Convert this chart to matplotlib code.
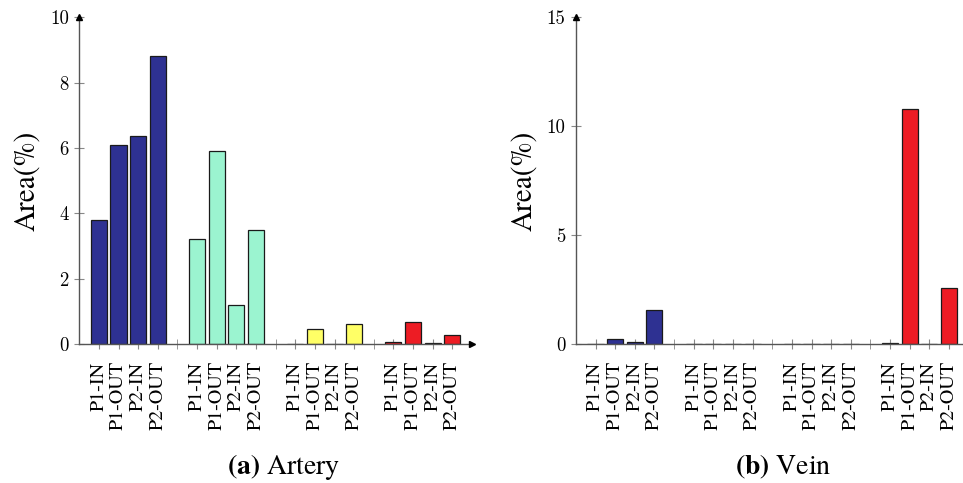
import numpy as np
import matplotlib.pyplot as plt

labels = ['P1-IN', 'P1-OUT', 'P2-IN', 'P2-OUT']
colors = ['#2e3192', '#9bf4d0', '#ffff66', '#ed1c24']

# 4 groups x 4 bars
artery = [[3.8, 6.1, 6.38, 8.8],
          [3.22, 5.9, 1.2, 3.5],
          [0.01, 0.45, 0.01, 0.6],
          [0.07, 0.66, 0.04, 0.29]]
vein = [[0.02, 0.23, 0.11, 1.55],
        [0.01, 0.01, 0.01, 0.01],
        [0.01, 0.01, 0.01, 0.01],
        [0.04, 10.8, 0.01, 2.58]]

plt.rcParams['font.family'] = ['TeX Gyre Termes', 'Liberation Serif', 'DejaVu Serif']
plt.rcParams['mathtext.fontset'] = 'custom'
plt.rcParams['mathtext.rm'] = 'TeX Gyre Termes'
plt.rcParams['mathtext.bf'] = 'TeX Gyre Termes:bold'

fig = plt.figure(figsize=(9.63, 4.83), dpi=100)
ax1 = fig.add_axes([0.0823, 0.2878, 0.4078, 0.6764])
ax2 = fig.add_axes([0.598, 0.2878, 0.4078, 0.6764])


def draw(ax, data, ymax, yticks):
    pos, names = [], []
    for g, vals in enumerate(data):
        x = np.arange(4) + 1 + g * 5
        ax.bar(x, vals, width=0.82, color=colors[g], edgecolor='#1a1a1a', linewidth=0.9, zorder=3)
        pos += list(x)
        names += labels
    ax.set_xlim(0, 20)
    ax.set_ylim(0, ymax)
    ax.set_xticks(np.arange(1, 20), minor=True)
    ax.set_xticks(pos)
    ax.set_xticklabels(names, rotation=90, fontsize=14.5, va='top')
    ax.set_yticks(yticks)
    ax.set_yticklabels([str(t) for t in yticks], fontsize=13.5, family='cmr10')
    ax.tick_params(axis='x', which='both', direction='inout', length=7, color='#888888', pad=9)
    ax.tick_params(axis='y', direction='inout', length=7, color='#888888', pad=4)
    for s in ['top', 'right']:
        ax.spines[s].set_visible(False)
    for s in ['left', 'bottom']:
        ax.spines[s].set_color('#555555')
        ax.spines[s].set_linewidth(1.0)
        ax.spines[s].set_zorder(4)
    ax.plot(1, 0, '>', color='black', markersize=4, transform=ax.transAxes, clip_on=False, zorder=5)
    ax.plot(0, 1, '^', color='black', markersize=4, transform=ax.transAxes, clip_on=False, zorder=5)
    ax.set_ylabel('Area(%)', fontsize=21, labelpad=6)


draw(ax1, artery, 10, [0, 2, 4, 6, 8, 10])
draw(ax2, vein, 15, [0, 5, 10, 15])

fig.text(0.295, 0.033, r'$\mathbf{(a)}$ Artery', fontsize=20, ha='center', va='center')
fig.text(0.813, 0.033, r'$\mathbf{(b)}$ Vein', fontsize=20, ha='center', va='center')

fig.savefig('out.png', dpi=100)
